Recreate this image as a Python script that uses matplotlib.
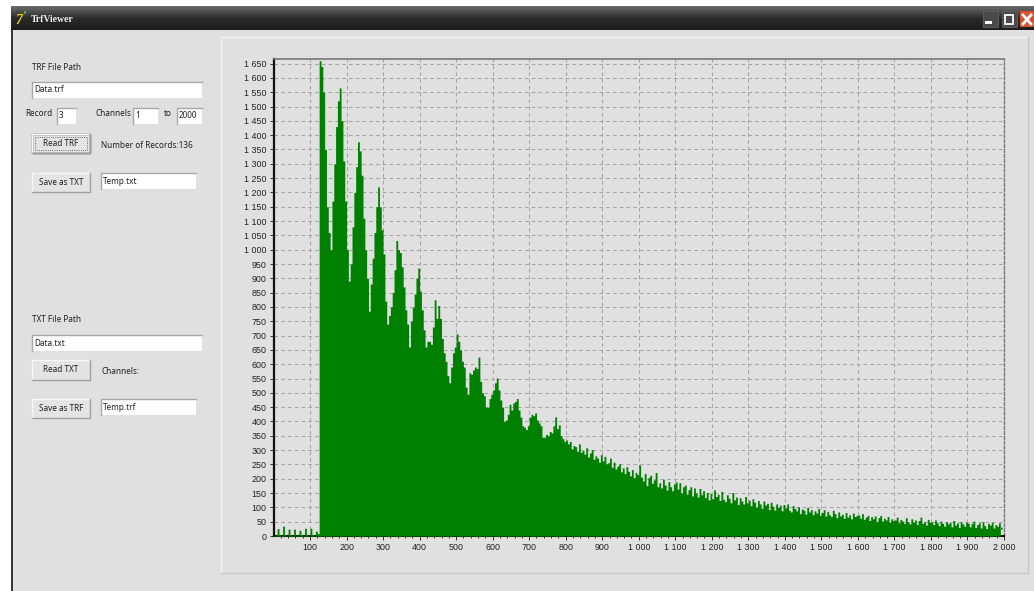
import numpy as np
import matplotlib
matplotlib.use('Agg')
import matplotlib.pyplot as plt
from matplotlib.patches import Rectangle

# counts per 5 channel bin
counts_0 = [2, 3, 26, 5, 2, 34, 4, 2, 24, 4, 2, 24, 3, 2, 20, 5, 2, 27, 4, 2]
counts_100 = [27, 5, 2, 17, 8, 1660, 1640, 1550, 1350, 1150, 1060, 1000, 1170, 1300, 1430, 1520, 1565, 1450, 1310, 1170]
counts_200 = [1000, 890, 950, 1080, 1200, 1290, 1377, 1345, 1260, 1110, 1000, 900, 785, 880, 970, 1060, 1150, 1219, 1150, 1070]
counts_300 = [985, 820, 740, 770, 800, 850, 930, 1032, 1000, 990, 940, 870, 790, 740, 660, 750, 800, 845, 900, 936]
counts_400 = [855, 790, 720, 660, 680, 680, 670, 730, 825, 760, 805, 760, 690, 640, 610, 560, 535, 590, 640, 660]
counts_500 = [706, 680, 650, 610, 590, 520, 495, 570, 565, 580, 590, 585, 625, 540, 500, 490, 450, 450, 480, 495]
counts_600 = [510, 535, 552, 510, 475, 450, 400, 405, 425, 460, 440, 465, 470, 480, 440, 415, 385, 380, 372, 385]
counts_700 = [415, 425, 420, 430, 405, 395, 385, 345, 345, 355, 350, 365, 360, 385, 416, 375, 388, 350, 340, 330]
counts_800 = [335, 322, 330, 304, 316, 312, 296, 322, 292, 300, 286, 308, 276, 290, 302, 268, 280, 272, 258, 284]
counts_900 = [262, 278, 252, 256, 272, 240, 258, 234, 244, 252, 224, 238, 218, 242, 226, 210, 232, 204, 222, 214]
counts_1000 = [248, 206, 192, 218, 176, 204, 212, 184, 196, 222, 172, 186, 168, 198, 178, 160, 190, 172, 158, 182]
counts_1100 = [189, 164, 186, 150, 172, 178, 146, 162, 172, 140, 168, 150, 136, 166, 144, 158, 134, 152, 126, 148]
counts_1200 = [130, 161, 138, 146, 124, 156, 128, 120, 144, 132, 116, 152, 126, 136, 110, 134, 122, 112, 138, 116]
counts_1300 = [125, 106, 130, 118, 100, 124, 112, 96, 122, 108, 114, 92, 118, 104, 90, 112, 100, 108, 88, 110]
counts_1400 = [98, 112, 90, 84, 106, 96, 88, 102, 78, 94, 90, 76, 100, 84, 92, 74, 88, 80, 96, 72]
counts_1500 = [82, 92, 70, 86, 74, 68, 90, 78, 64, 84, 70, 76, 62, 82, 66, 74, 60, 80, 68, 72]
counts_1600 = [73, 62, 78, 58, 66, 72, 54, 68, 60, 70, 50, 64, 72, 52, 62, 56, 68, 48, 60, 54]
counts_1700 = [56, 66, 46, 58, 52, 44, 64, 50, 42, 60, 48, 56, 40, 54, 66, 44, 50, 38, 58, 48]
counts_1800 = [49, 40, 56, 46, 36, 52, 44, 34, 50, 42, 48, 32, 54, 38, 46, 30, 50, 42, 34, 48]
counts_1900 = [45, 32, 44, 52, 30, 40, 46, 28, 50, 36, 26, 44, 38, 48, 28, 40, 34, 46, 24, 31]
counts = (counts_0 + counts_100 + counts_200 + counts_300 + counts_400 + counts_500 + counts_600
          + counts_700 + counts_800 + counts_900 + counts_1000 + counts_1100 + counts_1200
          + counts_1300 + counts_1400 + counts_1500 + counts_1600 + counts_1700 + counts_1800 + counts_1900)
channels = list(range(0, 2000, 5))

x_ticks = list(range(100, 2100, 100))
y_ticks = list(range(0, 1700, 50))
x_minor = list(range(20, 2000, 20))


def spaced(v):
    return f"{v:,}".replace(",", " ")


W, H = 1034, 591
BG = '#e0e0e0'
UI_FONT = 'Noto Sans'

fig = plt.figure(figsize=(W / 100, H / 100), dpi=100, facecolor=BG)

# whole window is drawn on one pixel axes
ui = fig.add_axes([0, 0, 1, 1], zorder=0)
ui.set_xlim(0, W)
ui.set_ylim(H, 0)
ui.axis('off')


def box(x, y, w, h, fc, ec='none', lw=0.8, **kw):
    ui.add_patch(Rectangle((x, y), w, h, fc=fc, ec=ec, lw=lw, **kw))


def label(x, y, s, size=5.9, color='#222222', **kw):
    ui.text(x, y, s, fontsize=size, color=color, family=UI_FONT, va='center', **kw)


def field(x, y, w, h, s):
    box(x, y, w, h, 'white')
    ui.plot([x, x, x + w], [y + h, y, y], color='#a8a8a8', lw=1)
    label(x + 2, y + h / 2, s)


def button(x, y, w, h, s, focused=False):
    box(x, y, w, h, '#e4e4e4')
    ui.plot([x, x, x + w], [y + h, y, y], color='#f8f8f8', lw=1)
    ui.plot([x, x + w, x + w], [y + h, y + h, y], color='#a0a0a0', lw=1)
    if focused:
        box(x, y, w, h, 'none', ec='#222222', lw=1)
        box(x + 3, y + 3, w - 6, h - 6, 'none', ec='#444444', lw=0.6, ls=':')
    label(x + w / 2, y + h / 2, s, ha='center')


# window frame
box(0, 0, W, 6, 'white')
box(0, 0, 10.5, H, 'white')
box(10.5, 6, 2.5, H - 6, '#3a3a3a')
grad = np.linspace(0, 1, 24).reshape(-1, 1)
ui.imshow(grad, extent=(10.5, W, 30, 6), cmap=matplotlib.colors.LinearSegmentedColormap.from_list(
    'bar', ['#6a6a6a', '#2b2b2b', '#1c1c1c']), aspect='auto', zorder=1)
ui.set_xlim(0, W)
ui.set_ylim(H, 0)
ui.text(19, 20, '7', fontsize=10, color='#e8d020', style='italic', weight='bold',
        family='Liberation Serif', ha='center', va='center', zorder=3)
ui.text(25, 17, "'", fontsize=9, color='#50c040', weight='bold', ha='center', va='center', zorder=3)
ui.text(31, 20, 'TrfViewer', fontsize=7, color='#f0f0f0', weight='bold',
        family='Liberation Serif', va='center', zorder=3)
box(983, 11, 15, 16, '#4a4a4a', ec='#5a5a5a', zorder=3)
box(985, 21, 7, 2.5, 'white', zorder=4)
box(1002, 11, 15, 16, '#4a4a4a', ec='#5a5a5a', zorder=3)
box(1005, 15, 8, 9, 'none', ec='white', lw=1.3, zorder=4)
box(1020, 11, 14, 16, '#d8502c', zorder=3)
ui.plot([1023, 1031], [15, 24], color='white', lw=2, zorder=4)
ui.plot([1023, 1031], [24, 15], color='white', lw=2, zorder=4)

# chart panel
box(221, 37, 807, 536, BG)
ui.plot([221, 221, 1028], [573, 37, 37], color='#f2f2f2', lw=1)
ui.plot([221, 1028, 1028], [573, 573, 37], color='#c8c8c8', lw=1)

# left controls
label(32, 68, 'TRF File Path')
field(32, 82, 170, 16, 'Data.trf')
label(25, 114, 'Record')
field(57, 108, 19, 16, '3')
label(95, 114, 'Channels')
field(133, 108, 25, 16, '1')
label(164, 114, 'to')
field(177, 108, 25, 16, '2000')
button(32, 134, 58, 19, 'Read TRF', focused=True)
label(101, 146, 'Number of Records:136')
button(32, 173, 58, 19, 'Save as TXT')
field(101, 173, 95, 16, 'Temp.txt')
label(32, 320, 'TXT File Path')
field(32, 335, 170, 16, 'Data.txt')
button(32, 360, 58, 20, 'Read TXT')
label(101, 372, 'Channels:')
button(32, 399, 58, 19, 'Save as TRF')
field(101, 399, 95, 16, 'Temp.trf')

# the plot
ax = fig.add_axes([273.5 / W, 1 - 536 / H, 730.5 / W, 477 / H], zorder=2)
ax.set_facecolor(BG)
ax.set_xlim(0, 2000)
ax.set_ylim(0, 1666)
ax.fill_between(channels + [1990], counts + [0], 0, step='post', color='#008000', lw=0, zorder=3)
ax.set_axisbelow(True)
ax.grid(True, color='#a6a6a6', ls=(0, (3.5, 3)), lw=0.75)
ax.set_xticks(x_ticks)
ax.set_xticklabels([spaced(v) for v in x_ticks], family='Liberation Sans', fontsize=6.4, color='#222222')
ax.set_xticks(x_minor, minor=True)
ax.set_yticks(y_ticks)
ax.set_yticklabels([spaced(v) for v in y_ticks], family='Liberation Sans', fontsize=6.4, color='#222222')
ax.tick_params(axis='both', which='major', length=3, width=0.7, color='#333333', pad=2)
ax.tick_params(axis='x', which='minor', length=1.5, width=0.7, color='#333333')
ax.grid(False, which='minor')
ax.spines['left'].set(color='#111111', lw=1.6)
ax.spines['bottom'].set(color='#111111', lw=1.5)
ax.spines['top'].set(color='#777777', lw=1.2)
ax.spines['right'].set(color='#777777', lw=1, ls=(0, (2, 1.5)))

fig.savefig('out.png', dpi=100, facecolor=BG)
